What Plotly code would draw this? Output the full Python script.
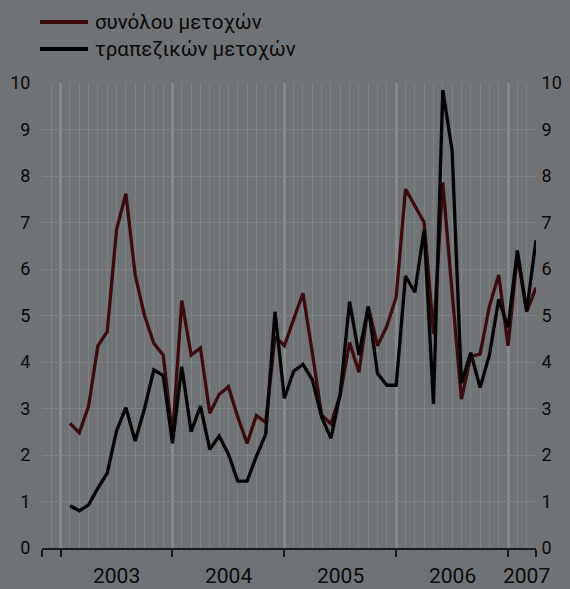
import plotly.graph_objects as go

# Monthly observations, Jan 2003 .. Mar 2007 (month index 1..51, plotted at month end)
months = list(range(1, 52))
total_shares = [2.68, 2.48, 3.05, 4.35, 4.65, 6.85, 7.62, 5.87, 5.00, 4.40, 4.15, 2.40,
                5.32, 4.15, 4.30, 2.90, 3.30, 3.47, 2.82, 2.25, 2.85, 2.70,
                4.55, 4.35, 4.92, 5.48, 4.20, 2.86, 2.67, 3.30, 4.42, 3.78, 5.19, 4.35, 4.77, 5.40,
                7.72, 7.35, 7.00, 4.60, 7.86, 5.50, 3.20, 4.12, 4.17, 5.20, 5.87, 4.35,
                6.30, 5.08, 5.60]
bank_shares = [0.91, 0.80, 0.93, 1.29, 1.61, 2.52, 3.02, 2.30, 3.00, 3.83, 3.71, 2.25,
               3.90, 2.50, 3.05, 2.12, 2.41, 2.02, 1.44, 1.44, 1.97, 2.45,
               5.08, 3.22, 3.80, 3.95, 3.62, 2.82, 2.36, 3.33, 5.30, 4.15, 5.19, 3.75, 3.50, 3.50,
               5.85, 5.50, 6.85, 3.10, 9.85, 8.55, 3.55, 4.20, 3.45, 4.15, 5.35, 4.75,
               6.40, 5.10, 6.62]
series_names = ["συνόλου μετοχών", "τραπεζικών μετοχών"]
year_labels = ["2003", "2004", "2005", "2006", "2007"]
year_label_pos = [6, 18, 30, 42, 50]
year_bounds = [-2, 0, 12, 24, 36, 48, 51]
y_ticks = list(range(0, 11))

BG = "rgb(111,115,117)"
GRID = "rgb(126,130,132)"
YEARGRID = "rgb(133,137,139)"
RED = "#3a0a0c"
BLACK = "#030303"
TXT = "#0a0a0a"
FONT = "Roboto, sans-serif"

# page body has an 8px margin: build the figure 8px smaller and shift everything
OFF = 8
FW, FH = 570 - OFF, 589 - OFF
# plot area in screen pixels
SL, SR, ST, SB = 42, 536, 83, 548
L, R, T, B = SL - OFF, 570 - SR, ST - OFF, 589 - SB
W, H = SR - SL, SB - ST

def px_x(p):
    return (p - SL) / W
def px_y(p):
    return (SB - p) / H

fig = go.Figure()
fig.add_trace(go.Scatter(x=months, y=total_shares, mode="lines", name=series_names[0],
                         line=dict(color=RED, width=3.3), showlegend=False, yaxis="y"))
fig.add_trace(go.Scatter(x=months, y=bank_shares, mode="lines", name=series_names[1],
                         line=dict(color=BLACK, width=3.3), showlegend=False, yaxis="y2"))

shapes = []
annotations = []
for i, (name, col) in enumerate(zip(series_names, [RED, BLACK])):
    yy = 22 + i * 27
    shapes.append(dict(type="line", xref="paper", yref="paper",
                       x0=px_x(40), x1=px_x(88), y0=px_y(yy), y1=px_y(yy),
                       line=dict(color=col, width=4)))
    annotations.append(dict(text=name, xref="paper", yref="paper", x=px_x(93), y=px_y(yy),
                            xanchor="left", yanchor="middle", showarrow=False,
                            font=dict(family=FONT, size=20.5, color=TXT)))
for lab, pos in zip(year_labels, year_label_pos):
    annotations.append(dict(text=lab, xref="x", yref="paper", x=pos, y=px_y(576),
                            xanchor="center", yanchor="middle", showarrow=False,
                            font=dict(family=FONT, size=21, color=TXT)))

fig.update_layout(
    width=FW, height=FH,
    margin=dict(l=L, r=R, t=T, b=B, autoexpand=False),
    paper_bgcolor=BG, plot_bgcolor=BG,
    showlegend=False,
    shapes=shapes, annotations=annotations,
    xaxis=dict(range=[-2, 51], tickvals=year_bounds, ticktext=[""] * len(year_bounds),
               ticks="outside", ticklen=7, tickwidth=2, tickcolor="#1a1a1a",
               showgrid=True, gridcolor=YEARGRID, gridwidth=2.5,
               minor=dict(dtick=1, tick0=0, showgrid=True, gridcolor=GRID, gridwidth=1, ticks=""),
               showline=True, linecolor="#1a1a1a", linewidth=2, zeroline=False,
               automargin=False, fixedrange=True),
    yaxis=dict(range=[0, 10], tickvals=y_ticks, showgrid=True, gridcolor=GRID, gridwidth=1,
               zeroline=False, ticks="outside", ticklen=7, tickcolor="rgba(0,0,0,0)",
               automargin=False, tickfont=dict(family=FONT, size=18, color=TXT)),
    yaxis2=dict(range=[0, 10], tickvals=y_ticks, overlaying="y", side="right", showgrid=False,
                zeroline=False, ticks="outside", ticklen=1, tickcolor="rgba(0,0,0,0)",
                automargin=False, tickfont=dict(family=FONT, size=18, color=TXT)),
)

fig.write_html("out.html",
               post_script="document.body.style.background='" + BG + "';"
                           "document.documentElement.style.background='" + BG + "';")
